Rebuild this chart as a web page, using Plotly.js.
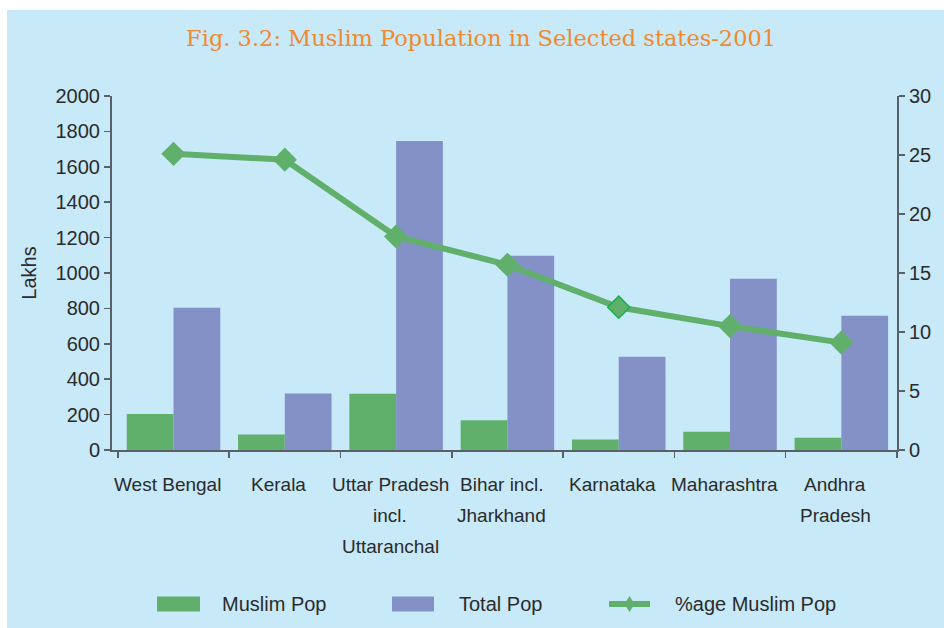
<!DOCTYPE html>
<html>
<head>
<meta charset="utf-8">
<script src="https://cdn.plot.ly/plotly-3.0.1.min.js"></script>
<style>
  html, body { margin: 0; padding: 0; background: #ffffff; }
  #chart { position: absolute; left: 7px; top: 10px; width: 937px; height: 618px; }
</style>
</head>
<body>
<div id="chart"></div>
<script>
// Muslim population in selected states, census 2001 (lakhs and percent)
var states = ['West Bengal', 'Kerala', 'Uttar Pradesh', 'Bihar', 'Karnataka', 'Maharashtra', 'Andhra Pradesh'];
var stateLabels = [
    ['West Bengal'],
    ['Kerala'],
    ['Uttar Pradesh', 'incl.', 'Uttaranchal'],
    ['Bihar incl.', 'Jharkhand'],
    ['Karnataka'],
    ['Maharashtra'],
    ['Andhra', 'Pradesh']
];
var muslimPop = [203, 87, 318, 168, 59, 103, 69];
var totalPop = [804, 319, 1746, 1097, 527, 968, 759];
var pctMuslim = [25.1, 24.6, 18.1, 15.7, 12.1, 10.5, 9.1];
var legendNames = ['Muslim Pop', 'Total Pop', '%age Muslim Pop'];

var bg = '#c7e9f8';
var green = '#60b06c';
var blue = '#8491c6';
var axisCol = '#58606a';
var txtCol = '#2b2b2b';
var sans = 'Liberation Sans, Arial, sans-serif';

// plot area in div pixels, used to place the hand made legend
var W = 937, H = 618;
var mL = 105, mR = 47, mT = 86, mB = 178;
var plotW = W - mL - mR, plotH = H - mT - mB;
function px(x) { return (x - mL) / plotW; }
function py(y) { return (H - mB - y) / plotH; }

var traceMuslim = {
    x: states, y: muslimPop, type: 'bar', name: legendNames[0],
    marker: {color: green}, showlegend: false, hoverinfo: 'x+y'
};
var traceTotal = {
    x: states, y: totalPop, type: 'bar', name: legendNames[1],
    marker: {color: blue}, showlegend: false, hoverinfo: 'x+y'
};
var tracePct = {
    x: states, y: pctMuslim, type: 'scatter', mode: 'lines+markers', yaxis: 'y2',
    name: legendNames[2], showlegend: false,
    line: {color: green, width: 6},
    marker: {
        symbol: 'diamond', size: 17, color: green,
        // Karnataka point is outlined in the original
        line: {color: pctMuslim.map(function (v, i) { return i == 4 ? '#1aae4c' : green; }), width: 1.5}
    }
};

// x labels as annotations so the line spacing can match
var annotations = [];
for (var i = 0; i < states.length; i++) {
    for (var j = 0; j < stateLabels[i].length; j++) {
        annotations.push({
            x: states[i], xref: 'x', y: 0, yref: 'paper',
            yanchor: 'middle', xanchor: 'center',
            yshift: -34 - 31 * j, xshift: -6,
            text: stateLabels[i][j], showarrow: false,
            font: {family: sans, size: 19, color: txtCol}
        });
    }
}

// legend: swatch + text
var shapes = [];
var legendY = 594;
var legendItems = [
    {x0: 150, x1: 193, tx: 213, color: green, kind: 'box'},
    {x0: 385, x1: 427, tx: 450, color: blue, kind: 'box'},
    {x0: 602, x1: 643, tx: 666, color: green, kind: 'line'}
];
legendItems.forEach(function (it, k) {
    if (it.kind == 'box') {
        shapes.push({
            type: 'rect', xref: 'paper', yref: 'paper',
            x0: px(it.x0), x1: px(it.x1), y0: py(legendY - 7.5), y1: py(legendY + 7.5),
            fillcolor: it.color, line: {width: 0}
        });
    } else {
        shapes.push({
            type: 'line', xref: 'paper', yref: 'paper',
            x0: px(it.x0), x1: px(it.x1), y0: py(legendY), y1: py(legendY),
            line: {color: it.color, width: 6}
        });
        shapes.push({
            type: 'path', xref: 'paper', yref: 'paper',
            xsizemode: 'pixel', ysizemode: 'pixel',
            xanchor: px((it.x0 + it.x1) / 2), yanchor: py(legendY),
            path: 'M-5,0 L0,8 L5,0 L0,-8 Z',
            fillcolor: it.color, line: {width: 0}
        });
    }
    annotations.push({
        x: px(it.tx), xref: 'paper', y: py(legendY), yref: 'paper',
        xanchor: 'left', yanchor: 'middle', showarrow: false,
        text: legendNames[k], font: {family: sans, size: 20, color: txtCol}
    });
});

var layout = {
    width: W, height: H,
    margin: {l: mL, r: mR, t: mT, b: mB},
    paper_bgcolor: bg, plot_bgcolor: bg,
    showlegend: false,
    barmode: 'group', bargap: 0.16, bargroupgap: 0,
    title: {
        text: 'Fig. 3.2: Muslim Population in Selected states-2001',
        x: 0.506, xanchor: 'center', y: (H - 28) / H, yanchor: 'middle',
        font: {family: 'DejaVu Serif, Liberation Serif, serif', size: 22.5, color: '#ef8a2e'}
    },
    xaxis: {
        type: 'category', showticklabels: false,
        tickson: 'boundaries', ticks: 'outside', ticklen: 6, tickcolor: axisCol, tickwidth: 1.5,
        showline: true, linecolor: axisCol, linewidth: 2, showgrid: false, zeroline: false,
        fixedrange: true
    },
    yaxis: {
        range: [0, 2000], dtick: 200, ticks: 'outside', ticklen: 6,
        tickcolor: axisCol, tickwidth: 1.5,
        showline: true, linecolor: axisCol, linewidth: 2, showgrid: false, zeroline: false,
        tickfont: {family: sans, size: 20, color: txtCol},
        title: {text: 'Lakhs', standoff: 14, font: {family: sans, size: 20, color: txtCol}}
    },
    yaxis2: {
        overlaying: 'y', side: 'right', anchor: 'x',
        range: [0, 30], dtick: 5, ticks: 'outside', ticklen: 6,
        tickcolor: axisCol, tickwidth: 1.5,
        showline: true, linecolor: axisCol, linewidth: 2, showgrid: false, zeroline: false,
        tickfont: {family: sans, size: 20, color: txtCol}
    },
    // second copy of the right axis only for the inner half of the cross ticks
    yaxis3: {
        overlaying: 'y', side: 'right', anchor: 'x',
        range: [0, 30], dtick: 5, ticks: 'inside', ticklen: 6,
        tickcolor: axisCol, tickwidth: 1.5, showticklabels: false,
        showline: false, showgrid: false, zeroline: false
    },
    annotations: annotations,
    shapes: shapes
};

Plotly.newPlot('chart', [traceMuslim, traceTotal, tracePct], layout, {displayModeBar: false, staticPlot: true});
</script>
</body>
</html>
